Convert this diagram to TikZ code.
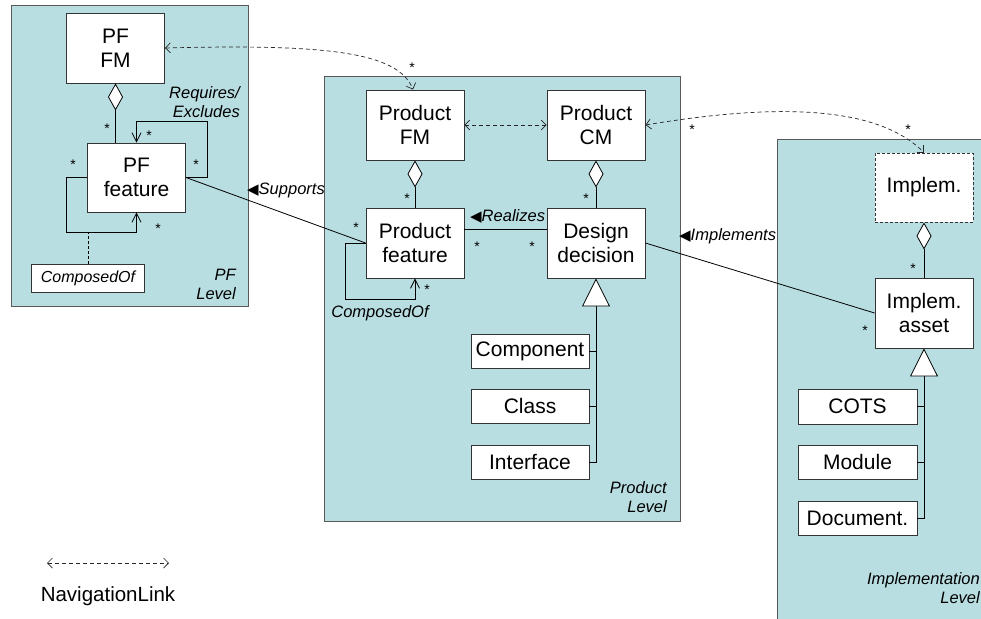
\documentclass[tikz,border=0pt]{standalone}
\usepackage{fontspec}
\setmainfont{Liberation Sans}
\newfontfamily\symfont{DejaVu Sans}
\usetikzlibrary{arrows.meta}
\definecolor{pkg}{RGB}{185,222,226}
\newcommand\trisym{{\fontsize{15}{15}\selectfont\upshape\symfont ◀}}
\begin{document}
\begin{tikzpicture}[x=1pt,y=-1pt,
  pkgbox/.style={draw=black!65, fill=pkg, line width=1pt},
  cls/.style={draw=black!80, fill=white, line width=0.9pt, minimum width=98pt, minimum height=70pt, inner sep=0pt, align=center, font=\fontsize{21}{24}\selectfont},
  sub/.style={cls, minimum width=118pt, minimum height=34pt},
  conn/.style={draw=black, line width=0.8pt},
  navlink/.style={draw=black!85, line width=0.7pt, dash pattern=on 4pt off 3pt, {Straight Barb[length=5pt,width=10pt]}-{Straight Barb[length=5pt,width=10pt]}},
  selfarrow/.style={conn, -{Straight Barb[length=9pt,width=9pt]}},
  aggr/.style={conn, {Diamond[fill=white,length=27pt,width=15pt]}-},
  gen/.style={conn, -{Triangle[fill=white,length=28pt,width=28pt]}},
  mult/.style={font=\fontsize{14}{14}\selectfont, inner sep=0pt},
  lbl/.style={font=\fontsize{16.5}{19}\selectfont\itshape, inner sep=0pt, align=right}
]
\clip (0,0) rectangle (981,618);
\fill[white] (0,0) rectangle (981,618);
% packages
\path[pkgbox] (11,6) rectangle (248,306);
\path[pkgbox] (324,76) rectangle (680,521);
\path[pkgbox] (777,139) rectangle (995,640);

% PF level nodes
\node[cls] (pffm) at (115.5,48) {PF\\FM};
\node[cls, minimum height=69pt] (pff) at (136.5,177.5) {PF\\feature};
\node[cls, minimum width=113pt, minimum height=28pt, font=\fontsize{16}{19}\selectfont\itshape] (cof) at (88,278) {ComposedOf};
\node[lbl, anchor=east] (reqlbl) at (240,102.5) {Requires/\\Excludes};
\node[lbl, anchor=east] (pflvl) at (236,284) {PF\\Level};

% Product level nodes
\node[cls] (pfm) at (415,125) {Product\\FM};
\node[cls] (pcm) at (596,125) {Product\\CM};
\node[cls] (prf) at (415,243) {Product\\feature};
\node[cls] (dd) at (596,243) {Design\\decision};
\node[sub] (comp) at (530,351) {Component};
\node[sub] (class) at (530,406) {Class};
\node[sub] (iface) at (530,462) {Interface};
\node[lbl, anchor=east] (prlvl) at (667,497) {Product\\Level};
\node[lbl] (cof2) at (380,313) {ComposedOf};

% Implementation level nodes
\node[cls, minimum height=69pt, dash pattern=on 3pt off 2pt] (impl) at (924,187.5) {Implem.};
\node[cls] (impa) at (924,313) {Implem.\\asset};
\node[sub, minimum width=119pt, minimum height=35pt] (cots) at (857.5,406.5) {COTS};
\node[sub, minimum width=119pt] (module) at (857.5,462) {Module};
\node[sub, minimum width=119pt] (doc) at (857.5,518) {Document.};
\node[lbl, anchor=east] (imlvl) at (980,588) {Implementation\\Level};

% labels with direction triangles
\node[lbl, anchor=west] (suplbl) at (247,190) {\trisym Supports};
\node[lbl, anchor=west] (reallbl) at (470,216) {\trisym Realizes};
\node[lbl, anchor=west] (impllbl) at (679,236) {\trisym Implements};

% PF level connectors
\draw[aggr] (pffm.south) -- (pffm.south |- pff.north);
\draw[selfarrow] (pff.east) -- ++(21,0) |- ([yshift=21pt]pff.north) -- (pff.north);
\coordinate (pfloopb) at ([yshift=-20pt]pff.south);
\draw[selfarrow] (pff.west) -- ++(-21,0) |- (pfloopb) -- (pff.south);
\draw[conn, line width=0.7pt, dash pattern=on 3pt off 2pt] (cof.north) -- (cof.north |- pfloopb);

% cross-level connectors
\draw[conn] (pff.east) -- (prf.west);
\draw[conn] ([yshift=14pt]prf.east) -- ([yshift=14pt]dd.west);
\draw[conn] (dd.east) -- (impa.west);

% Product level connectors
\draw[aggr] (pfm.south) -- (prf.north);
\draw[aggr] (pcm.south) -- (dd.north);
\draw[selfarrow] (prf.west) -- ++(-20,0) |- ([yshift=-21pt]prf.south) -- (prf.south);
\draw[gen] (iface.east) -| (dd.south);
\draw[conn] (comp.east) -- (comp.east -| dd.south);
\draw[conn] (class.east) -- (class.east -| dd.south);

% Implementation level connectors
\draw[aggr] (impl.south) -- (impa.north);
\draw[gen] (doc.east) -| (impa.south);
\draw[conn] (cots.east) -- (cots.east -| impa.south);
\draw[conn] (module.east) -- (module.east -| impa.south);

% navigation links
\draw[navlink] (pffm.east) .. controls +(160,-4) and +(-15,-38) .. ([xshift=-2pt]pfm.north);
\draw[navlink] (pfm.east) -- (pcm.west);
\draw[navlink] (pcm.east) .. controls +(120,-20) and +(-50,-50) .. (impl.north);

% multiplicities
\node[mult] (m1) at (107,129) {*};
\node[mult] (m2) at (149,136) {*};
\node[mult] (m3) at (196,165) {*};
\node[mult] (m4) at (73,165) {*};
\node[mult] (m5) at (158,229) {*};
\node[mult] (m6) at (412,68) {*};
\node[mult] (m7) at (407,199) {*};
\node[mult] (m8) at (586,199) {*};
\node[mult] (m9) at (356,228) {*};
\node[mult] (m10) at (477,247) {*};
\node[mult] (m11) at (532,247) {*};
\node[mult] (m12) at (427,290) {*};
\node[mult] (m13) at (692,130) {*};
\node[mult] (m14) at (908,130) {*};
\node[mult] (m15) at (913,269) {*};
\node[mult] (m16) at (865,331) {*};

% legend
\coordinate (lega) at (47,563);
\coordinate (legb) at (169,563);
\draw[navlink] (lega) -- (legb);
\node[font=\fontsize{20.5}{24}\selectfont, inner sep=0pt] (legtxt) at (108,596) {NavigationLink};
\end{tikzpicture}
\end{document}
